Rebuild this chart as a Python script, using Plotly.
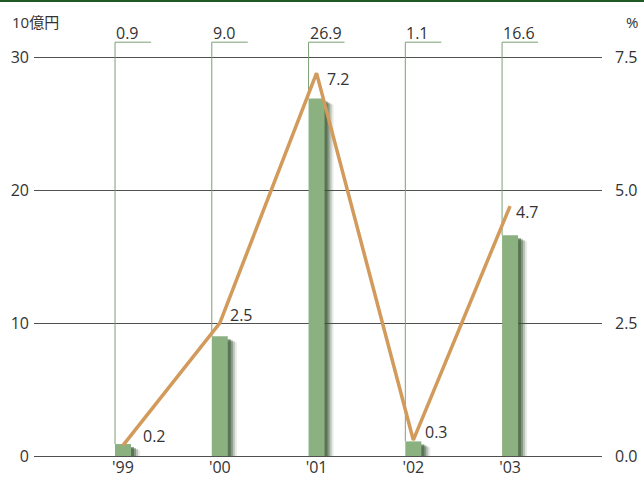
import plotly.graph_objects as go

# Fiscal years and series
years = ["'99", "'00", "'01", "'02", "'03"]
bar_values = [0.9, 9.0, 26.9, 1.1, 16.6]      # 10億円 (left axis)
pct_values = [0.2, 2.5, 7.2, 0.3, 4.7]        # % (right axis)
left_ticks = [0, 10, 20, 30]
right_ticks = [0, 2.5, 5.0, 7.5]

# label offsets (px) for the percentage labels
pct_label_shift = [(20, 9), (10, 8), (10, -6), (12, 8), (6, -6)]

xs = list(range(len(years)))

# Pixel scales of the plot area
PX_X = 1 / 96.76          # x units per pixel
PX_Y = 1 / 13.3           # left-axis units per pixel
BAR_W = 16 * PX_X
BAR_OFF = -BAR_W / 2

Y_MAX = 34.0              # left axis extends above 30 to hold the callouts
Y2_MAX = Y_MAX * 7.5 / 30

BAR_COLOR = "#8bb180"
LINE_COLOR = "#d29a5b"
CALLOUT_COLOR = "#7aa174"
TEXT_COLOR = "#333333"
GRID_COLOR = "#505050"
FONT = "Open Sans, Noto Sans CJK JP, sans-serif"

fig = go.Figure()

# soft drop shadow behind each bar (stacked translucent layers)
shadow_layers = [(3, 0.55, 2), (5, 0.40, 3), (7, 0.25, 4), (9, 0.12, 5)]
for dx, alpha, dy in shadow_layers:
    fig.add_trace(go.Bar(
        x=xs,
        y=[v - dy * PX_Y for v in bar_values],
        base=-1 * PX_Y,
        width=BAR_W,
        offset=BAR_OFF + dx * PX_X,
        marker=dict(color=f"rgba(55,85,50,{alpha})", line=dict(width=0)),
        hoverinfo="skip",
        showlegend=False,
    ))

# main bars
fig.add_trace(go.Bar(
    x=xs,
    y=bar_values,
    width=BAR_W,
    offset=BAR_OFF,
    marker=dict(color=BAR_COLOR, line=dict(width=0)),
    showlegend=False,
))

# callout leader lines and value labels for the bars
CALLOUT_Y = (456 - 42) * PX_Y
CALLOUT_LEN = 36 * PX_X
LABEL_Y = (456 - 33) * PX_Y
for xi, v in zip(xs, bar_values):
    x_left = xi + BAR_OFF
    fig.add_trace(go.Scatter(
        x=[x_left, x_left, x_left + CALLOUT_LEN],
        y=[v, CALLOUT_Y, CALLOUT_Y],
        mode="lines",
        line=dict(color=CALLOUT_COLOR, width=1),
        hoverinfo="skip",
        showlegend=False,
    ))
    fig.add_annotation(
        x=x_left, y=LABEL_Y, xref="x", yref="y",
        text=f"{v:.1f}", showarrow=False,
        xanchor="left", yanchor="middle", xshift=-1,
        font=dict(size=16, color=TEXT_COLOR, family=FONT),
    )

# percentage line
fig.add_trace(go.Scatter(
    x=xs,
    y=pct_values,
    yaxis="y2",
    mode="lines",
    line=dict(color=LINE_COLOR, width=3.5),
    showlegend=False,
))
for xi, v, (sx, sy) in zip(xs, pct_values, pct_label_shift):
    fig.add_annotation(
        x=xi, y=v, xref="x", yref="y2",
        text=f"{v:.1f}", showarrow=False,
        xanchor="left", yanchor="middle", xshift=sx - 2, yshift=sy,
        font=dict(size=16, color=TEXT_COLOR, family=FONT),
    )

# axis unit labels
fig.add_annotation(
    x=-24 / 568, y=(456 - 22) / 452, xref="paper", yref="paper",
    text="10億円", showarrow=False, xanchor="left", yanchor="middle",
    font=dict(size=15, color=TEXT_COLOR, family=FONT),
)
fig.add_annotation(
    x=1 + 38 / 568, y=(456 - 22) / 452, xref="paper", yref="paper",
    text="%", showarrow=False, xanchor="right", yanchor="middle",
    font=dict(size=15, color=TEXT_COLOR, family=FONT),
)

# dark green rule across the top
fig.add_shape(
    type="line", xref="paper", yref="paper",
    x0=-34 / 568, x1=1 + 42 / 568, y0=1 + 3 / 452, y1=1 + 3 / 452,
    line=dict(color="#1f5a24", width=2),
)

fig.update_layout(
    width=644, height=483,
    margin=dict(l=34, r=42, t=4, b=27),
    paper_bgcolor="white", plot_bgcolor="white",
    barmode="overlay",
    font=dict(family=FONT, size=16, color=TEXT_COLOR),
    xaxis=dict(
        tickvals=xs, ticktext=years,
        range=[-0.92, 4.95],
        showgrid=False, zeroline=False, showline=False,
        ticks="", tickfont=dict(size=16, color=TEXT_COLOR),
        ticklabelstandoff=0,
        fixedrange=True,
    ),
    yaxis=dict(
        range=[0, Y_MAX],
        tickvals=left_ticks,
        showgrid=True, gridcolor=GRID_COLOR, gridwidth=1,
        zeroline=True, zerolinecolor=GRID_COLOR, zerolinewidth=1,
        showline=False, ticks="",
        tickfont=dict(size=16, color=TEXT_COLOR),
        ticklabelstandoff=4,
    ),
    yaxis2=dict(
        range=[0, Y2_MAX],
        tickvals=right_ticks, tickformat=".1f",
        overlaying="y", side="right",
        showgrid=False, zeroline=False, showline=False, ticks="",
        tickfont=dict(size=16, color=TEXT_COLOR),
        ticklabelstandoff=12,
    ),
)

fig.write_html("out.html")
